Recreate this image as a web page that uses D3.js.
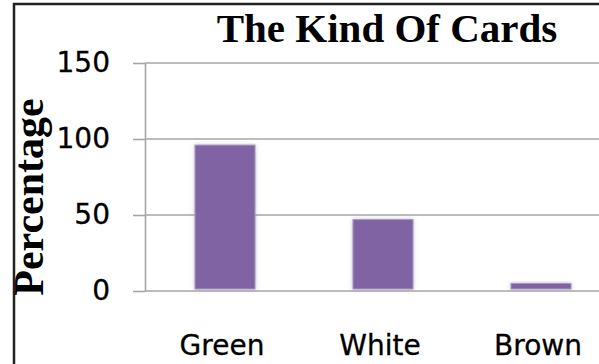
<!DOCTYPE html>
<meta charset="utf-8" />
<script src="https://d3js.org/d3.v7.min.js"></script>
<style>
  body { margin: 0; background: #fff; }
</style>
<body>
  <div id="chart"></div>
</body>
<script>
  // data
  const categories = ["Green", "White", "Brown"];
  const percentages = [96, 47, 5];
  const tickValues = [0, 50, 100, 150];

  const W = 599, H = 364;

  const svg = d3.select("#chart")
    .append("svg")
      .attr("width", W)
      .attr("height", H);

  // soft shadow under the bars
  const defs = svg.append("defs");
  const f = defs.append("filter").attr("id", "glow")
    .attr("x", "-30%").attr("y", "-30%").attr("width", "160%").attr("height", "160%");
  f.append("feDropShadow")
    .attr("dx", 0).attr("dy", 0)
    .attr("stdDeviation", 2.2)
    .attr("flood-color", "#888")
    .attr("flood-opacity", 0.45);

  // outer frame (only top and left edges are visible)
  svg.append("rect")
    .attr("x", 14).attr("y", 4)
    .attr("width", W + 20).attr("height", H + 20)
    .attr("fill", "none")
    .attr("stroke", "#222")
    .attr("stroke-width", 2.5);

  const y = d3.scaleLinear().domain([0, 150]).range([291, 63]);
  const x = d3.scaleBand()
    .domain(categories)
    .range([146, 620])
    .paddingInner(0.62)
    .paddingOuter(0.31);

  // gridlines
  svg.append("g")
    .selectAll("line")
    .data(tickValues)
    .enter()
    .append("line")
    .attr("x1", 145).attr("x2", W)
    .attr("y1", d => y(d)).attr("y2", d => y(d))
    .attr("stroke", "#a6a6a6")
    .attr("stroke-width", 1.6);

  // y axis
  const yAxis = svg.append("g")
    .attr("transform", "translate(145,0)")
    .call(d3.axisLeft(y).tickValues(tickValues).tickSizeInner(12).tickSizeOuter(0).tickPadding(23));
  yAxis.select(".domain").attr("stroke", "#a6a6a6").attr("stroke-width", 1.6);
  yAxis.selectAll(".tick line").attr("stroke", "#a6a6a6").attr("stroke-width", 1.6);
  yAxis.selectAll("text")
    .attr("fill", "#000")
    .attr("stroke", "#000")
    .attr("stroke-width", 0.3)
    .style("font-family", "DejaVu Sans")
    .style("font-size", "28px");

  // bars
  svg.append("g")
    .selectAll("rect")
    .data(percentages)
    .enter()
    .append("rect")
    .attr("x", (d, i) => x(categories[i]))
    .attr("width", x.bandwidth())
    .attr("y", d => y(d))
    .attr("height", d => y(0) - y(d) - 2)
    .attr("fill", "#8064a2")
    .attr("stroke", "#a898c4")
    .attr("stroke-width", 1)
    .attr("filter", "url(#glow)");

  // category labels
  svg.append("g")
    .selectAll("text")
    .data(categories)
    .enter()
    .append("text")
    .attr("x", d => x(d) + x.bandwidth() / 2 - 3)
    .attr("y", 355)
    .attr("text-anchor", "middle")
    .attr("stroke", "#000")
    .attr("stroke-width", 0.3)
    .style("font-family", "DejaVu Sans")
    .style("font-size", "28px")
    .text(d => d);

  // title
  svg.append("text")
    .attr("x", 387)
    .attr("y", 42)
    .attr("text-anchor", "middle")
    .style("font-family", "Liberation Serif")
    .style("font-weight", "bold")
    .style("font-size", "41px")
    .text("The Kind Of Cards");

  // y axis title
  svg.append("text")
    .attr("transform", "translate(43,197) rotate(-90)")
    .attr("text-anchor", "middle")
    .style("font-family", "Liberation Serif")
    .style("font-weight", "bold")
    .style("font-size", "42px")
    .text("Percentage");
</script>
